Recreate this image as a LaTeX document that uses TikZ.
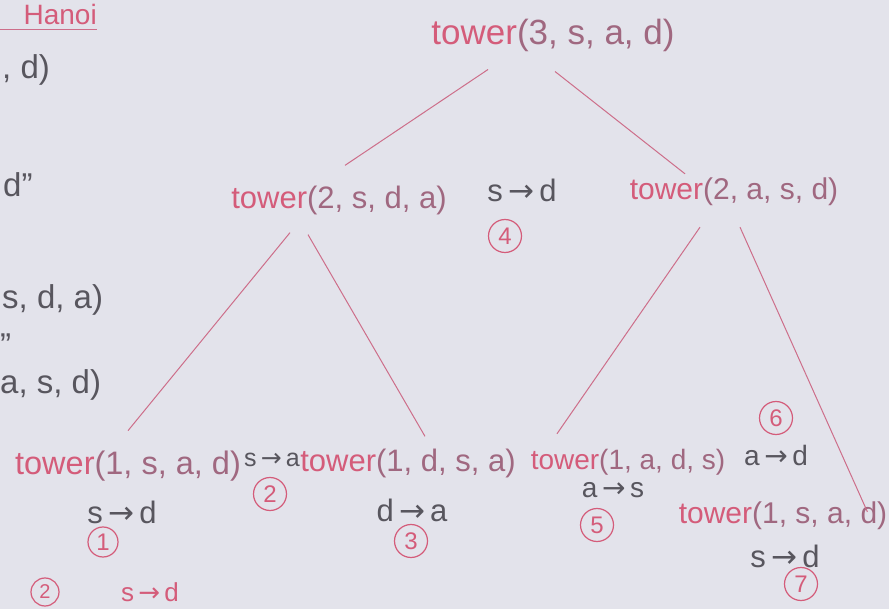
\documentclass[tikz,border=0pt]{standalone}
\usepackage{fontspec}
\setmainfont{Liberation Sans}
\newfontfamily\arrowfont{DejaVu Sans}
\usetikzlibrary{calc}
\definecolor{bgc}{RGB}{227,227,235}
\definecolor{tw}{RGB}{212,92,122}
\definecolor{argc}{RGB}{160,104,128}
\definecolor{mvc}{RGB}{88,86,94}
\definecolor{lnc}{RGB}{205,110,138}
\newcommand{\tw}[1]{\textcolor{tw}{tower}\textcolor{argc}{(#1)}}
\newcommand{\ar}{\,{\arrowfont →}\,}
\newcommand{\sq}{\char"22}
\begin{document}
\begin{tikzpicture}[x=1pt,y=-1pt,
  call/.style={inner sep=0pt,font=\fontsize{31}{34}\selectfont},
  mv/.style={inner sep=0pt,text=mvc,font=\fontsize{31}{34}\selectfont},
  num/.style={circle,draw=tw,text=tw,line width=1.2pt,minimum size=33pt,inner sep=0pt,font=\fontsize{24}{26}\selectfont},
  side/.style={inner sep=0pt,text=mvc,font=\fontsize{33}{36}\selectfont},
  link/.style={draw=lnc,line width=1pt}]
\fill[bgc] (0,0) rectangle (889,609);
\useasboundingbox (0,0) rectangle (889,609);
% left partial notes
\node[inner sep=0pt,text=tw,font=\fontsize{28}{30}\selectfont,anchor=east] (hanoi) at (97,14) {Hanoi};
\coordinate (ulA) at (-5,30);
\draw[link] (ulA) -- (hanoi.south east |- ulA);
\node[side,anchor=west] (n1) at (2,70) {, d)};
\node[side,anchor=west] (n2) at (3,185) {d\sq};
\node[side,anchor=west] (n3) at (2,300) {s, d, a)};
\node[side,anchor=west] (n4) at (0,345) {\sq};
\node[side,anchor=west] (n5) at (0,385) {a, s, d)};
\node[num,minimum size=28pt,font=\fontsize{20}{22}\selectfont] (nb) at (45,592) {2};
\node[inner sep=0pt,text=tw,font=\fontsize{26}{28}\selectfont] (nbm) at (150,592) {s\ar d};
% tree
\node[call,font=\fontsize{35}{38}\selectfont] (root) at (553,35) {\tw{3, s, a, d}};
\node[call] (L) at (339,200) {\tw{2, s, d, a}};
\node[call,font=\fontsize{30}{33}\selectfont] (R) at (734,192) {\tw{2, a, s, d}};
\node[mv] (m4) at (522,190) {s\ar d};
\node[num] (c4) at (505,236) {4};
\node[call,font=\fontsize{32.5}{35}\selectfont] (LL) at (128,466) {\tw{1, s, a, d}};
\node[mv,font=\fontsize{25}{28}\selectfont] (m2) at (272,460) {s\ar a};
\node[num] (c2) at (270,494) {2};
\node[call] (LR) at (408,463) {\tw{1, d, s, a}};
\node[mv] (m1) at (122,512) {s\ar d};
\node[num,minimum size=30pt] (c1) at (103,542) {1};
\node[mv] (m3) at (412,510) {d\ar a};
\node[num] (c3) at (411,541) {3};
\node[call,font=\fontsize{28}{31}\selectfont] (RL) at (628,462) {\tw{1, a, d, s}};
\node[mv,font=\fontsize{28}{31}\selectfont] (m5) at (613,490) {a\ar s};
\node[num] (c5) at (597,525) {5};
\node[num] (c6) at (776,418) {6};
\node[mv,font=\fontsize{28}{31}\selectfont] (m6) at (776,455) {a\ar d};
\node[call,font=\fontsize{30}{33}\selectfont] (RR) at (783,516) {\tw{1, s, a, d}};
\node[mv] (m7) at (785,556) {s\ar d};
\node[num] (c7) at (801,584) {7};
% connectors
\draw[link] ($(root.south)+(-65,18)$) -- ($(L.north)+(6,-20)$);
\draw[link] ($(root.south)+(2,20)$) -- ($(R.north)+(-49,-4)$);
\draw[link] ($(L.south)+(-49,18)$) -- ($(LL.north)+(0,-20)$);
\draw[link] ($(L.south)+(-31,20)$) -- ($(LR.north)+(17,-12)$);
\draw[link] ($(R.south)+(-34,21)$) -- ($(RL.north)+(-71,-15)$);
\draw[link] ($(R.south)+(6,21)$) -- ($(RR.north east)+(-20,10)$);
\end{tikzpicture}
\end{document}
